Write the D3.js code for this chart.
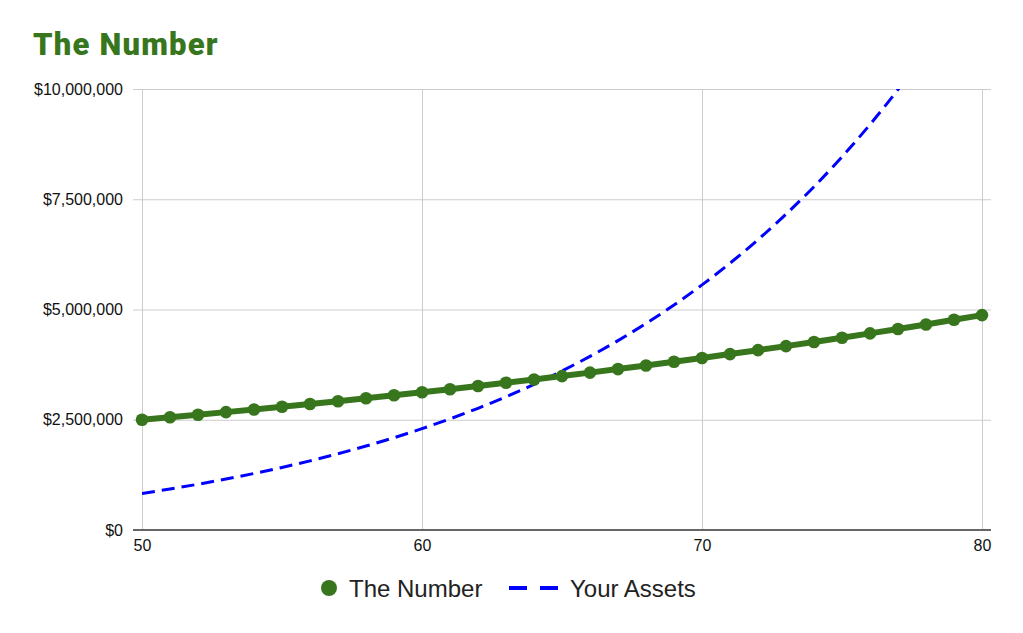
<!DOCTYPE html>
<html>
<head>
<meta charset="utf-8">
<script src="https://cdnjs.cloudflare.com/ajax/libs/d3/7.8.5/d3.min.js"></script>
<style>
  body { margin: 0; background: #fff; }
  svg { display: block; font-family: "Liberation Sans", Arial, sans-serif; }
  .grid line { stroke: #ccc; stroke-width: 1; }
  .grid .domain { display: none; }
  .grid text { fill: #111; font-size: 16px; font-family: "Liberation Sans", Arial, sans-serif; }
</style>
</head>
<body>
<div id="chart"></div>
<script>
// ages on the x axis
var ages = d3.range(50, 81);

// The Number, in millions of dollars
var theNumber = [2.500, 2.556, 2.614, 2.673, 2.733, 2.794, 2.857, 2.921, 2.987, 3.054,
                 3.123, 3.193, 3.265, 3.338, 3.413, 3.490, 3.569, 3.649, 3.731, 3.815,
                 3.901, 3.989, 4.078, 4.170, 4.264, 4.360, 4.458, 4.558, 4.661, 4.766,
                 4.873];

// Your Assets, in millions of dollars (runs off the top after 77)
var yourAssets = [0.830, 0.930, 1.038, 1.155, 1.282, 1.419, 1.568, 1.729, 1.904, 2.093,
                  2.298, 2.520, 2.760, 3.020, 3.302, 3.607, 3.937, 4.295, 4.683, 5.103,
                  5.558, 6.050, 6.583, 7.160, 7.785, 8.462, 9.195, 9.989, 10.849, 11.780,
                  12.789];

var xTicks = [50, 60, 70, 80];
var yTicks = [0, 2500000, 5000000, 7500000, 10000000];
var seriesNames = ["The Number", "Your Assets"];

var width = 1023,
    height = 633;
var plotLeft = 142, plotRight = 982, plotTop = 89, plotBottom = 530;
var green = "#38761d", blue = "#0000ff";

var svg = d3.select("#chart")
    .append("svg")
    .attr("width", width)
    .attr("height", height);

var x = d3.scaleLinear().domain([50, 80]).range([plotLeft, plotRight]);
var y = d3.scaleLinear().domain([0, 10000000]).range([plotBottom, plotTop]);

// title
svg.append("text")
    .attr("x", 33)
    .attr("y", 55)
    .attr("fill", green)
    .style("font-family", "Roboto, 'Liberation Sans', sans-serif")
    .style("font-size", "31px")
    .style("font-weight", "900")
    .style("letter-spacing", "1.2px")
    .text("The Number");

// horizontal grid + y labels
svg.append("g")
    .attr("class", "grid")
    .attr("transform", "translate(" + (plotLeft - 9) + ",0)")
    .call(d3.axisLeft(y)
        .tickValues(yTicks)
        .tickSize(-(plotRight - plotLeft + 18))
        .tickPadding(10)
        .tickFormat(function(d) { return "$" + d3.format(",")(d); }));

// vertical grid + x labels
svg.append("g")
    .attr("class", "grid")
    .attr("transform", "translate(0," + plotBottom + ")")
    .call(d3.axisBottom(x)
        .tickValues(xTicks)
        .tickSize(-(plotBottom - plotTop))
        .tickPadding(10)
        .tickFormat(d3.format("d")));

// baseline
svg.append("line")
    .attr("x1", plotLeft - 9)
    .attr("x2", plotRight + 9)
    .attr("y1", y(0))
    .attr("y2", y(0))
    .attr("stroke", "#666")
    .attr("stroke-width", 2);

svg.append("clipPath")
    .attr("id", "plot")
    .append("rect")
    .attr("x", plotLeft)
    .attr("y", plotTop)
    .attr("width", plotRight - plotLeft)
    .attr("height", plotBottom - plotTop);

// Your Assets - dashed blue
var assetPts = ages.map(function(a, i) { return [a, yourAssets[i] * 1e6]; });
svg.append("path")
    .datum(assetPts)
    .attr("clip-path", "url(#plot)")
    .attr("fill", "none")
    .attr("stroke", blue)
    .attr("stroke-width", 3)
    .attr("stroke-dasharray", "13,7")
    .attr("d", d3.line()
        .curve(d3.curveMonotoneX)
        .x(function(d) { return x(d[0]); })
        .y(function(d) { return y(d[1]); }));

// The Number - green with dots
var numberPts = ages.map(function(a, i) { return [a, theNumber[i] * 1e6]; });
svg.append("path")
    .datum(numberPts)
    .attr("fill", "none")
    .attr("stroke", green)
    .attr("stroke-width", 6)
    .attr("stroke-linejoin", "round")
    .attr("d", d3.line()
        .x(function(d) { return x(d[0]); })
        .y(function(d) { return y(d[1]); }));

svg.append("g")
    .selectAll("circle")
    .data(numberPts)
    .enter().append("circle")
    .attr("cx", function(d) { return x(d[0]); })
    .attr("cy", function(d) { return y(d[1]); })
    .attr("r", 6.3)
    .attr("fill", green);

// legend
var legend = svg.append("g").attr("transform", "translate(0,588)");

legend.append("circle")
    .attr("cx", 329)
    .attr("cy", 0)
    .attr("r", 8)
    .attr("fill", green);

legend.append("text")
    .attr("x", 349)
    .attr("y", 8.5)
    .attr("fill", "#222")
    .style("font-size", "24px")
    .text(seriesNames[0]);

legend.append("line")
    .attr("x1", 509)
    .attr("x2", 559)
    .attr("y1", 0)
    .attr("y2", 0)
    .attr("stroke", blue)
    .attr("stroke-width", 4)
    .attr("stroke-dasharray", "18,13");

legend.append("text")
    .attr("x", 570)
    .attr("y", 8.5)
    .attr("fill", "#222")
    .style("font-size", "24px")
    .text(seriesNames[1]);
</script>
</body>
</html>
